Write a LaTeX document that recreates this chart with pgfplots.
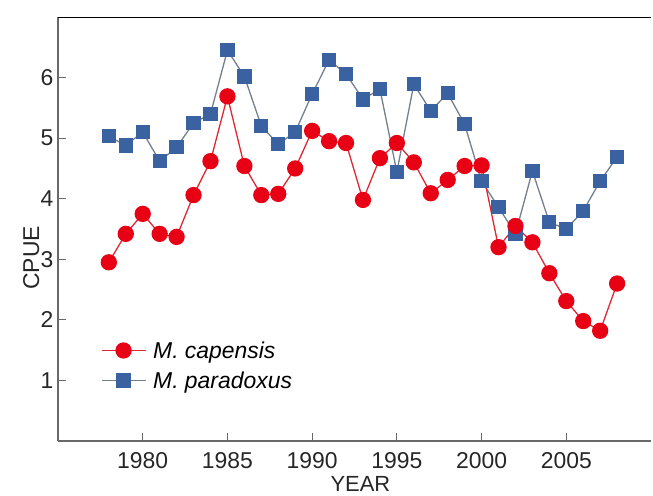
\documentclass[border=0pt]{standalone}
\usepackage{fontspec}
\setmainfont{Liberation Sans}
\usepackage{pgfplots}
\pgfplotsset{compat=1.18}

\definecolor{capred}{RGB}{232,0,20}
\definecolor{capline}{RGB}{222,40,52}
\definecolor{parblue}{RGB}{58,98,160}
\definecolor{parline}{RGB}{115,128,140}
\definecolor{axisgray}{RGB}{105,105,105}

\begin{document}
\begin{tikzpicture}
  \begin{axis}[
    scale only axis,
    width=593bp, height=424bp,
    xmin=1975, xmax=2010,
    ymin=0, ymax=7,
    axis x line*=bottom,
    axis y line*=left,
    axis line style={draw=axisgray, line width=1.8bp},
    tick align=inside,
    major tick length=8bp,
    tick style={draw=axisgray, line width=1bp},
    xtick={1980,1985,...,2005},
    ytick={1,2,...,6},
    /pgf/number format/assume math mode=true,
    x tick label style={/pgf/number format/1000 sep={}, yshift=-8bp},
    y tick label style={xshift=-1bp},
    tick label style={font=\fontsize{23}{26}\selectfont, text=black!85},
    xlabel={YEAR},
    ylabel={CPUE},
    label style={font=\fontsize{23}{26}\selectfont, text=black!85},
    xlabel style={at={(axis description cs:0.51,0)}, anchor=base,
      inner sep=0pt, yshift=-50bp, font=\fontsize{22}{24}\selectfont},
    ylabel style={at={(axis description cs:-0.032,0.432)}, anchor=base},
    reverse legend,
    legend style={
      at={(axis description cs:0.072,0.178)}, anchor=west,
      draw=none, fill=none, inner sep=0pt, row sep=8bp, column sep=5bp,
      font=\fontsize{23}{26}\selectfont\itshape,
      cells={anchor=west},
    },
    legend image code/.code={
      \draw[mark repeat=2, mark phase=2]
        plot coordinates {(0bp,0bp) (22bp,0bp) (44bp,0bp)};
    },
  ]
    % M. paradoxus
    \addplot[color=parline, line width=1.3bp, mark=square*,
      mark size=6.5bp, mark options={fill=parblue, draw=parblue}]
      coordinates {
      (1978,5.03) (1979,4.88) (1980,5.10) (1981,4.62) (1982,4.85)
      (1983,5.25) (1984,5.40) (1985,6.45) (1986,6.02) (1987,5.20)
      (1988,4.90) (1989,5.10) (1990,5.73) (1991,6.29) (1992,6.06)
      (1993,5.64) (1994,5.81) (1995,4.44) (1996,5.89) (1997,5.45)
      (1998,5.74) (1999,5.23) (2000,4.29) (2001,3.86) (2002,3.42)
      (2003,4.46) (2004,3.61) (2005,3.50) (2006,3.80) (2007,4.29)
      (2008,4.69)
    };
    \addlegendentry{M. paradoxus}

    % M. capensis
    \addplot[color=capline, line width=1.3bp, mark=*,
      mark size=7.5bp, mark options={fill=capred, draw=capred}]
      coordinates {
      (1978,2.95) (1979,3.42) (1980,3.75) (1981,3.42) (1982,3.37)
      (1983,4.06) (1984,4.62) (1985,5.69) (1986,4.54) (1987,4.06)
      (1988,4.08) (1989,4.50) (1990,5.12) (1991,4.95) (1992,4.92)
      (1993,3.98) (1994,4.67) (1995,4.92) (1996,4.60) (1997,4.09)
      (1998,4.31) (1999,4.54) (2000,4.55) (2001,3.20) (2002,3.55)
      (2003,3.28) (2004,2.77) (2005,2.31) (2006,1.98) (2007,1.82)
      (2008,2.60)
    };
    \addlegendentry{M. capensis}

    \draw[black, line width=1.8bp] (rel axis cs:0,1) -- (rel axis cs:1,1);
  \end{axis}
  \pgfresetboundingbox
  \useasboundingbox (-58bp,-55bp) rectangle (595bp,441bp);
\end{tikzpicture}
\end{document}
